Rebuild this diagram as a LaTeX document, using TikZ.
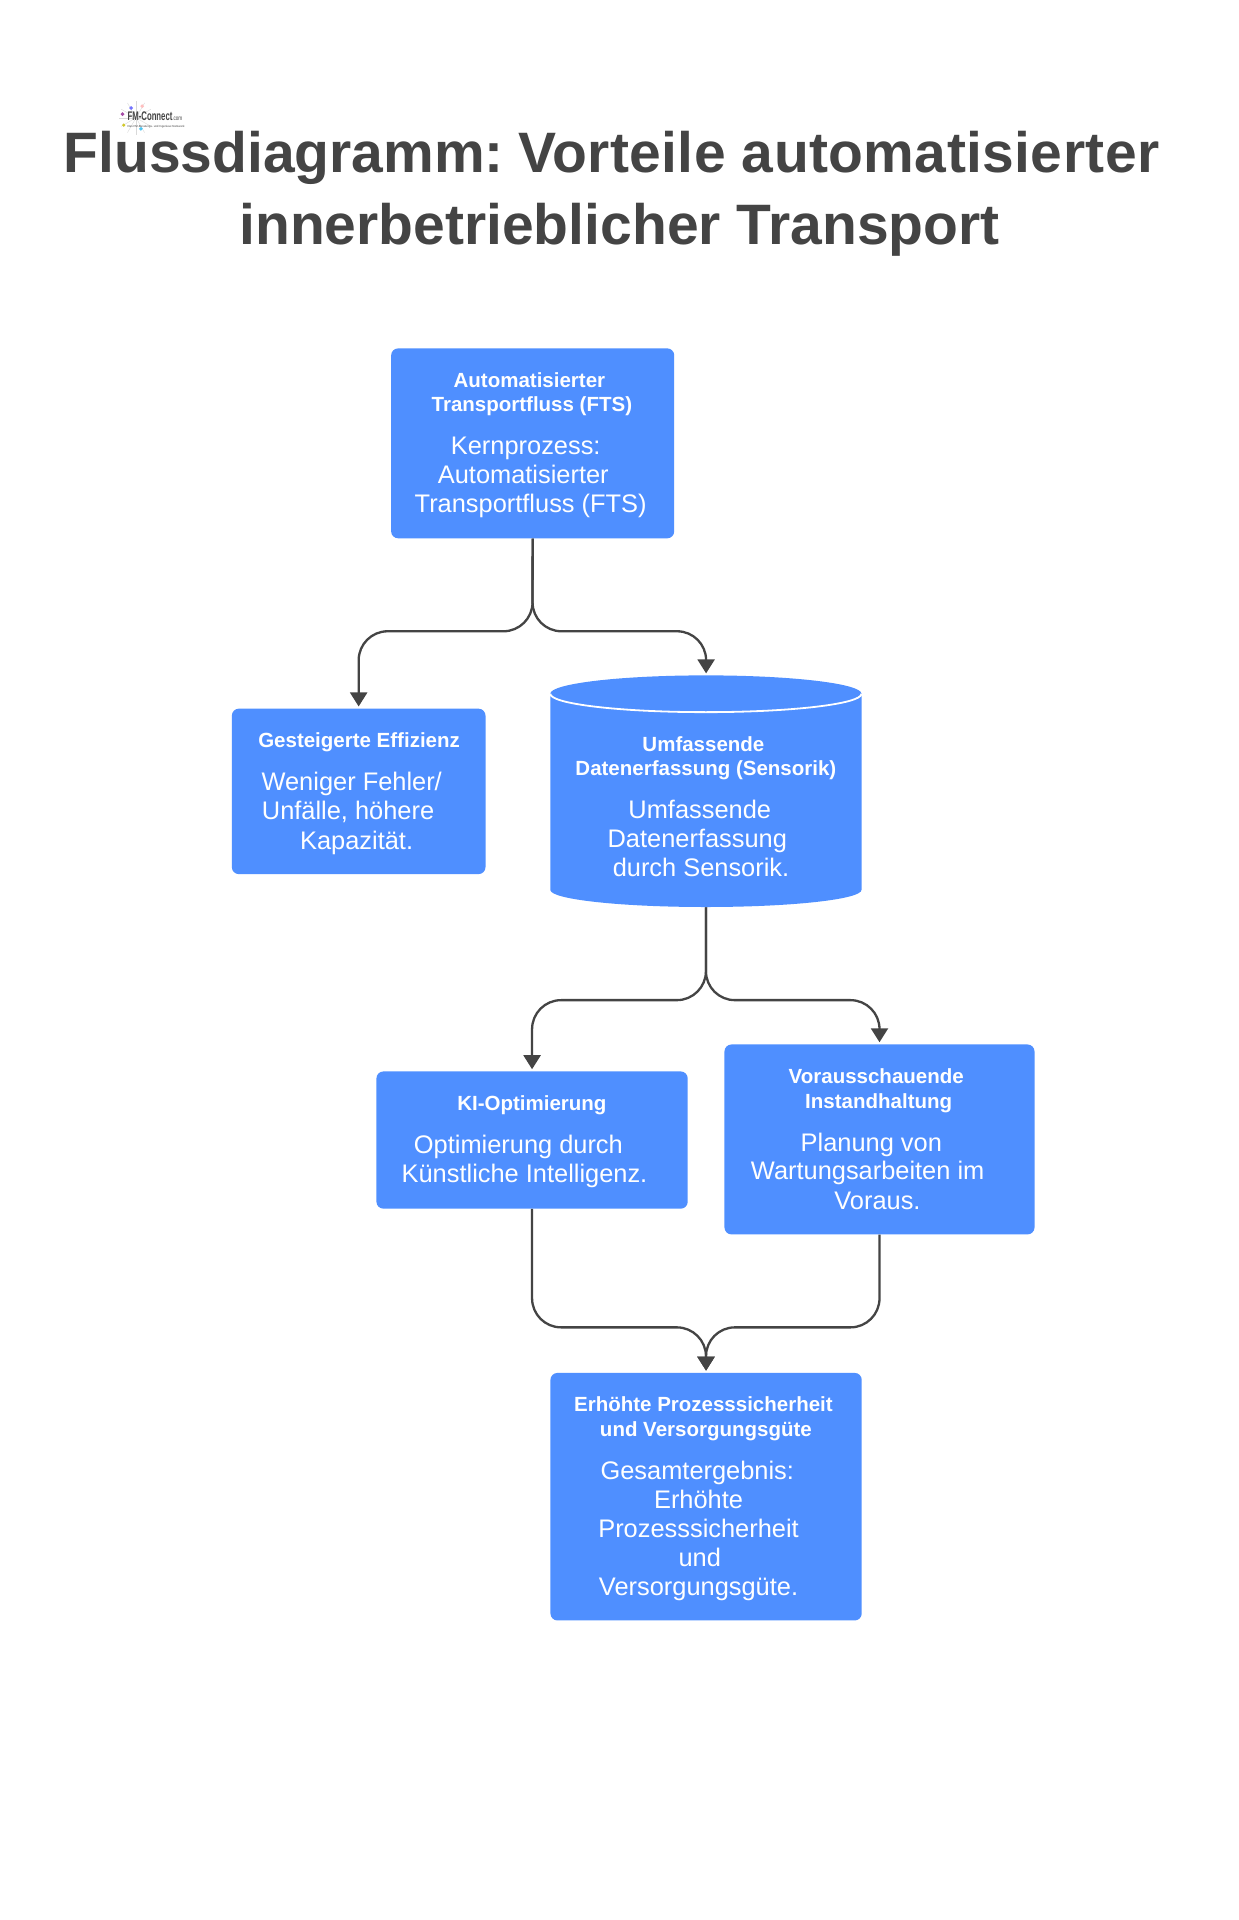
\documentclass[tikz,border=0pt]{standalone}
\usepackage{fontspec}
\setmainfont{Liberation Sans}
\usetikzlibrary{arrows.meta}
\definecolor{boxblue}{HTML}{4F8FFF}
\definecolor{ink}{HTML}{444444}
\tikzset{
  x=1.2255pt,y=-1.2255pt,
  box/.style={fill=boxblue,rounded corners=7pt,inner sep=0pt,anchor=north west},
  head/.style={text=white,inner sep=0pt,font=\fontsize{20.5}{24}\selectfont\bfseries,text height=17pt,text depth=2.2pt},
  body/.style={text=white,inner sep=0pt,font=\fontsize{25.4}{29}\selectfont,text height=19pt,text depth=0pt},
  titl/.style={text=ink,inner sep=0pt,font=\fontsize{57}{66}\selectfont\bfseries,text height=45pt,text depth=2pt},
  conn/.style={draw=ink,line width=2.3pt,rounded corners=29pt},
  tip/.style={-{Triangle[length=14pt,width=17pt]},shorten >=2pt},
}
\newcommand{\bx}[5]{\node[box,minimum width=#4*1.2255pt,minimum height=#5*1.2255pt] (#1) at (#2,#3) {};}
\begin{document}
\begin{tikzpicture}
\useasboundingbox (0,0.9) rectangle (1010.2,1567.6);
\fill[white] (0,0.9) rectangle (1010.2,1567.6);
% logo
\foreach \a in {0,30,...,330}{\draw[gray!30,line width=.4pt] (111,97) -- ++(\a:14);}
\fill[violet!70] (100,94) circle (1.6);
\fill[blue!55] (107,89) circle (1.6);
\fill[pink] (116,87.5) circle (1.6);
\fill[yellow!80!black] (101,103) circle (1.4);
\fill[cyan!70] (115,106) circle (1.6);
\node[inner sep=0pt,anchor=west,text=ink] (logo) at (104,95.5) {\scalebox{.62}[1]{\fontsize{12.5}{12.5}\selectfont\bfseries FM-Connect}\scalebox{.7}[1]{\fontsize{6.5}{6.5}\selectfont .com}};
\node[inner sep=0pt,anchor=west,text=ink] (logosub) at (104,104) {\fontsize{2.9}{3}\selectfont Das FM-Beratungs- und Ingenieur-Netzwerk};
% title
\node[titl] (t1) at (499,124.5) {Flussdiagramm:\hspace{-7pt} {\addfontfeature{LetterSpace=.7}Vorteile automatisierter}};
\node[titl] (t2) at (505.5,183) {innerbetrieblicher Transport};
% boxes
\bx{a}{319}{285}{231}{155}
\bx{b}{189}{579}{207}{135}
\bx{d}{307}{875}{254}{112}
\bx{e}{591}{853}{253}{155}
\bx{f}{449}{1121}{254}{202}
\node[inner sep=0pt,minimum width=254*1.2255pt,minimum height=189*1.2255pt,anchor=north west] (c) at (449,552) {};
\fill[boxblue] (449,567) arc[start angle=180,end angle=360,x radius=127,y radius=15] -- (703,727) arc[start angle=0,end angle=180,x radius=127,y radius=14] -- cycle;
\draw[white,line width=1.8pt] (449,567) arc[start angle=180,end angle=0,x radius=127,y radius=15];
% connectors
\coordinate (ab) at (434.5,516);
\coordinate (cd) at (576,817);
\coordinate (df) at (576,1084);
\draw[conn,tip] (a.south) -- (ab) -| (b.north);
\draw[conn,tip] (a.south) -- (ab) -| (c.north);
\draw[conn,tip] (c.south) -- (cd) -| (d.north);
\draw[conn,tip] (c.south) -- (cd) -| (e.north);
\draw[conn,tip] (d.south) |- (df) -- (f.north);
\draw[conn,tip] (e.south) |- (df) -- (f.north);
% text
\node[head] (a1) at (432,311) {Automatisierter};
\node[head] (a2) at (434,331) {Transportfluss (FTS)};
\node[body] (a3) at (429,364) {Kernprozess:};
\node[body] (a4) at (427,388) {Automatisierter};
\node[body] (a5) at (433,411) {Transportfluss (FTS)};
\node[head] (b1) at (293,605) {Gesteigerte Effizienz};
\node[body] (b2) at (287,638) {Weniger Fehler/};
\node[body] (b3) at (284,662) {Unfälle, höhere};
\node[body] (b4) at (291,686) {Kapazität.};
\node[head] (c1) at (574,608) {Umfassende};
\node[head] (c2) at (576,628) {Datenerfassung (Sensorik)};
\node[body] (c3) at (571,661) {Umfassende};
\node[body] (c4) at (569,685) {Datenerfassung};
\node[body] (c5) at (572,708) {durch Sensorik.};
\node[head] (d1) at (434,901) {KI-Optimierung};
\node[body] (d2) at (423,934) {Optimierung durch};
\node[body] (d3) at (428,958) {Künstliche Intelligenz.};
\node[head] (e1) at (715,879) {Vorausschauende};
\node[head] (e2) at (717,899) {Instandhaltung};
\node[body] (e3) at (711,933) {Planung von};
\node[body] (e4) at (708,956) {Wartungsarbeiten im};
\node[body] (e5) at (716,980) {Voraus.};
\node[head] (f1) at (574,1147) {Erhöhte Prozesssicherheit};
\node[head] (f2) at (576,1167) {und Versorgungsgüte};
\node[body] (f3) at (569,1200) {Gesamtergebnis:};
\node[body] (f4) at (570,1224) {Erhöhte};
\node[body] (f5) at (570,1248) {Prozesssicherheit};
\node[body] (f6) at (571,1271) {und};
\node[body] (f7) at (570,1295) {Versorgungsgüte.};
\end{tikzpicture}
\end{document}
